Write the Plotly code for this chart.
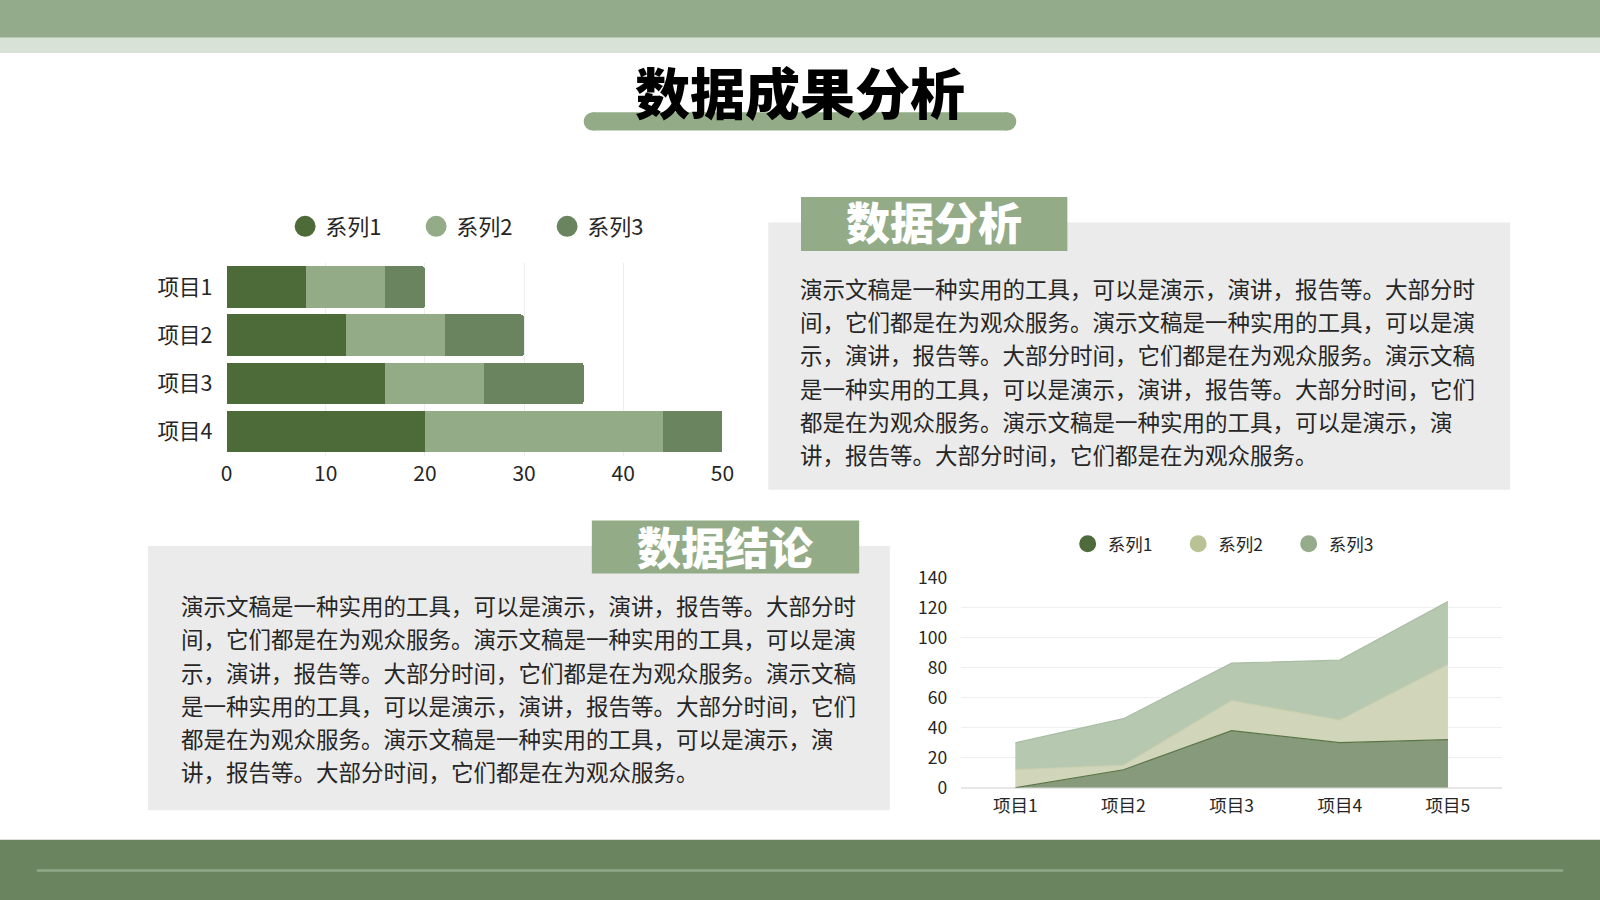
import plotly.graph_objects as go

# reference canvas size the positions below are measured in
W, H = 1568, 882

bar_categories = ['项目1', '项目2', '项目3', '项目4']
bar_s1 = [8, 12, 16, 20]
bar_s2 = [8, 10, 10, 24]
bar_s3 = [4, 8, 10, 6]

area_categories = ['项目1', '项目2', '项目3', '项目4', '项目5']
area_s1 = [0, 12, 38, 30, 32]
area_s2 = [12, 3, 20, 15, 50]
area_s3 = [18, 31, 25, 40, 42]

series_names = ['系列1', '系列2', '系列3']

title_text = '数据成果分析'
label_top = '数据分析'
label_bottom = '数据结论'
body_lines = [
    '演示文稿是一种实用的工具，可以是演示，演讲，报告等。大部分时',
    '间，它们都是在为观众服务。演示文稿是一种实用的工具，可以是演',
    '示，演讲，报告等。大部分时间，它们都是在为观众服务。演示文稿',
    '是一种实用的工具，可以是演示，演讲，报告等。大部分时间，它们',
    '都是在为观众服务。演示文稿是一种实用的工具，可以是演示，演',
    '讲，报告等。大部分时间，它们都是在为观众服务。',
]


def px(x):
    return x / W


def py(y):
    return 1 - y / H


FONT = 'Noto Sans CJK SC'
bar_colors = ['#4D6B38', '#93AB87', '#6B8460']
area_fill = ['#879A7B', '#D1D6BA', '#B6C8B0']
area_line = ['#5A7548', '#C9CFAE', '#A9BDA2']
area_legend = ['#4F6B3B', '#B9C295', '#94AC8B']

fig = go.Figure()

# stacked horizontal bars
for name, vals, col in zip(series_names, [bar_s1, bar_s2, bar_s3], bar_colors):
    fig.add_trace(go.Bar(
        y=bar_categories, x=vals, name=name, orientation='h',
        marker=dict(color=col, line=dict(width=0)),
        showlegend=False, xaxis='x', yaxis='y'
    ))
# legend entries (circles) for the bars
for name, col in zip(series_names, bar_colors):
    fig.add_trace(go.Scatter(
        x=[None], y=[None], mode='markers', name=name,
        marker=dict(color=col, size=16, line=dict(color=col, width=5)),
        legend='legend', xaxis='x', yaxis='y'
    ))

# stacked area chart
for name, vals, fc, lc in zip(series_names, [area_s1, area_s2, area_s3], area_fill, area_line):
    fig.add_trace(go.Scatter(
        x=area_categories, y=vals, name=name, mode='lines',
        stackgroup='one', fillcolor=fc, line=dict(color=lc, width=1.2),
        showlegend=False, xaxis='x2', yaxis='y2'
    ))
for name, col in zip(series_names, area_legend):
    fig.add_trace(go.Scatter(
        x=[None], y=[None], mode='markers', name=name,
        marker=dict(color=col, size=14, line=dict(color=col, width=3)),
        legend='legend2', xaxis='x2', yaxis='y2'
    ))

shapes = [
    # header bands
    dict(type='rect', x0=0, x1=1, y0=py(37), y1=1, fillcolor='#93AB8A'),
    dict(type='rect', x0=0, x1=1, y0=py(52), y1=py(37), fillcolor='#D9E2D6'),
    # title underbar
    dict(type='rect', x0=px(581), x1=px(987), y0=py(128), y1=py(110), fillcolor='#93AB87'),
    dict(type='circle', x0=px(572), x1=px(590), y0=py(128), y1=py(110), fillcolor='#93AB87'),
    dict(type='circle', x0=px(978), x1=px(996), y0=py(128), y1=py(110), fillcolor='#93AB87'),
    # grey text panels
    dict(type='rect', x0=px(753), x1=px(1480), y0=py(480), y1=py(218), fillcolor='#EBEBEB'),
    dict(type='rect', x0=px(145), x1=px(872), y0=py(794), y1=py(535), fillcolor='#EBEBEB'),
    # label boxes
    dict(type='rect', x0=px(785), x1=px(1046), y0=py(246), y1=py(193), fillcolor='#93AB87'),
    dict(type='rect', x0=px(580), x1=px(842), y0=py(562), y1=py(510), fillcolor='#93AB87'),
    # footer
    dict(type='rect', x0=0, x1=1, y0=0, y1=py(823), fillcolor='#6B8460'),
    dict(type='line', x0=px(36), x1=px(1532), y0=py(853), y1=py(853),
         line=dict(color='#90A887', width=2.5)),
]
for s in shapes:
    s.update(xref='paper', yref='paper', layer='below')
    if s['type'] != 'line':
        s['line'] = dict(width=0)

annotations = [
    dict(text=title_text, x=px(784), y=py(88), xanchor='center', yanchor='middle',
         font=dict(family=FONT, size=55, color='#000000', weight=900)),
    dict(text=label_top, x=px(915), y=py(217), xanchor='center', yanchor='middle',
         font=dict(family=FONT, size=44, color='#FFFFFF', weight=900)),
    dict(text=label_bottom, x=px(711), y=py(535), xanchor='center', yanchor='middle',
         font=dict(family=FONT, size=44, color='#FFFFFF', weight=900)),
]
line_step = 32.6
for i, line in enumerate(body_lines):
    for x0, y0 in [(782, 282), (175, 593)]:
        annotations.append(dict(
            text=line, x=px(x0), y=py(y0 + i * line_step), xanchor='left', yanchor='middle',
            font=dict(family=FONT, size=22.5, color='#262626')
        ))
for a in annotations:
    a.update(xref='paper', yref='paper', showarrow=False)

fig.update_layout(
    width=1600, height=900,
    margin=dict(l=0, r=0, t=0, b=0, pad=0, autoexpand=False),
    paper_bgcolor='#FFFFFF',
    plot_bgcolor='rgba(0,0,0,0)',
    font=dict(family=FONT, color='#262626'),
    barmode='stack', bargap=0.13,
    xaxis=dict(domain=[px(222), px(708)], range=[0, 50], dtick=10,
               showgrid=True, gridcolor='#EDEDED', zeroline=False, showline=False,
               tickfont=dict(size=21, color='#262626'), ticklen=0, ticks='',
               ticklabelstandoff=3, anchor='y', fixedrange=True),
    yaxis=dict(domain=[py(446.5), py(258)], autorange='reversed',
               showgrid=False, zeroline=False, showline=False,
               tickfont=dict(size=21.5, color='#262626'), ticks='', ticklabelstandoff=13,
               anchor='x', fixedrange=True),
    xaxis2=dict(domain=[px(942), px(1472)], range=[-0.5, 4.5], type='category',
                showgrid=False, zeroline=False, showline=False,
                tickfont=dict(size=17.5, color='#262626'), ticks='', ticklabelstandoff=6,
                anchor='y2', fixedrange=True),
    yaxis2=dict(domain=[py(772), py(566)], range=[0, 140], dtick=20,
                showgrid=True, gridcolor='#EFEFEF', zeroline=True, zerolinecolor='#E6E6E6',
                showline=False, tickfont=dict(size=17.5, color='#262626'), ticks='',
                ticklabelstandoff=13, anchor='x2', fixedrange=True),
    legend=dict(orientation='h', x=px(472), xanchor='center', y=py(222), yanchor='middle',
                font=dict(size=22, color='#262626'), bgcolor='rgba(0,0,0,0)',
                entrywidth=86, itemwidth=30, traceorder='normal'),
    legend2=dict(orientation='h', x=px(1209), xanchor='center', y=py(533), yanchor='middle',
                 font=dict(size=17.5, color='#262626'), bgcolor='rgba(0,0,0,0)',
                 entrywidth=65.5, itemwidth=30, traceorder='normal'),
    shapes=shapes,
    annotations=annotations,
    barcornerradius=3,
)

fig.write_html("out.html", config={'displayModeBar': False},
               post_script="document.body.style.margin='0';document.body.style.overflow='hidden';")
